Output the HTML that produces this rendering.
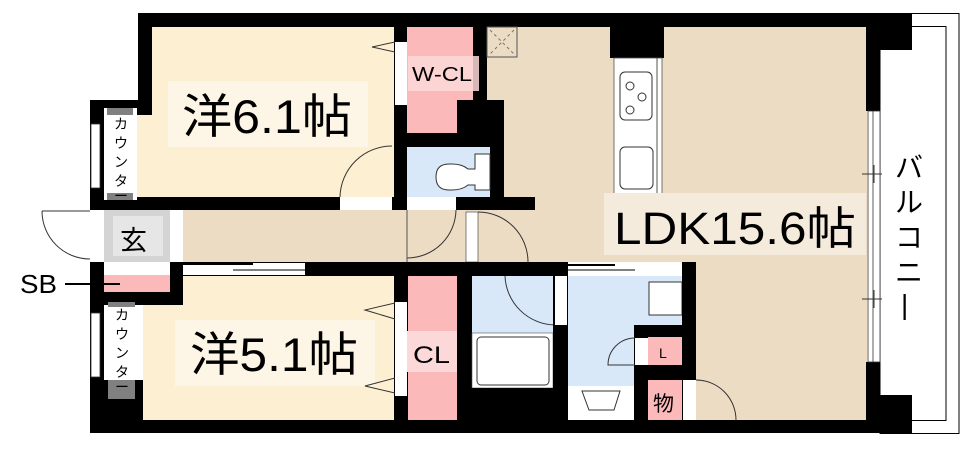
<!DOCTYPE html>
<html><head><meta charset="utf-8"><style>
html,body{margin:0;padding:0;background:#fff;width:972px;height:470px;overflow:hidden}
svg{display:block}
text{font-family:"Liberation Sans","Noto Sans CJK JP",sans-serif;fill:#000}
</style></head><body>
<svg width="972" height="470" viewBox="0 0 972 470" xmlns="http://www.w3.org/2000/svg">
<rect x="880" y="13.5" width="79" height="420" fill="#fff" stroke="#000" stroke-width="1"/>
<rect x="880" y="26.5" width="66" height="394" fill="none" stroke="#000" stroke-width="1"/>
<rect x="487" y="27" width="380" height="394" fill="#ecdcc4"/>
<rect x="152" y="27" width="243" height="170" fill="#fdf0d2"/>
<rect x="137" y="115" width="20" height="82" fill="#fdf0d2"/>
<rect x="90" y="210" width="470" height="52" fill="#ecdcc4"/>
<rect x="143" y="276" width="252" height="144" fill="#fdf0d2"/>
<rect x="138" y="13" width="774" height="14" fill="#000"/>
<rect x="138" y="13" width="14" height="102" fill="#000"/>
<rect x="90" y="100" width="62" height="15" fill="#000"/>
<rect x="90" y="100" width="14" height="110" fill="#000"/>
<rect x="90" y="197" width="445" height="13" fill="#000"/>
<rect x="394" y="27" width="13" height="183" fill="#000"/>
<rect x="866" y="13" width="14" height="98" fill="#000"/>
<rect x="866" y="13" width="46" height="37" fill="#000"/>
<rect x="866" y="362" width="14" height="60" fill="#000"/>
<rect x="866" y="395" width="46" height="38" fill="#000"/>
<rect x="90" y="420" width="822" height="13" fill="#000"/>
<rect x="610" y="27" width="54" height="31" fill="#000"/>
<rect x="407" y="27" width="66" height="106" fill="#fbb9b9"/>
<rect x="473" y="27" width="14" height="75" fill="#000"/>
<rect x="457" y="100" width="47" height="47" fill="#000"/>
<rect x="394" y="133" width="110" height="14" fill="#000"/>
<rect x="407" y="147" width="83" height="50" fill="#d8e8f8"/>
<rect x="490" y="100" width="14" height="110" fill="#000"/>
<rect x="407" y="197" width="49" height="13" fill="#fff"/>
<path d="M475 154 h15 v36 h-15 v-5 h-7 q-6 5-16 5 h-3 q-13 0-13-13 q0-13 13-13 h3 q10 0 16 5 h7z" fill="#fff" stroke="#333"/>
<rect x="395" y="42" width="12" height="63" fill="#fff"/>
<path d="M395 42 L372 47 L395 52" fill="none" stroke="#333"/>
<rect x="408" y="56" width="71" height="35" fill="#fdd8d8" opacity=".85"/>
<text x="412" y="81" font-size="20" textLength="60" lengthAdjust="spacingAndGlyphs">W-CL</text>
<rect x="487" y="27" width="30" height="30" fill="#ecdcc4" stroke="#555"/>
<path d="M490 30 L514 54 M514 30 L490 54" stroke="#777" stroke-dasharray="3,3"/>
<rect x="340" y="197" width="52" height="13" fill="#fff"/>
<path d="M392 146 A52 52 0 0 0 340 197" fill="none" stroke="#333"/>
<rect x="168" y="81" width="200" height="66" fill="#fdf5e5"/>
<text x="182" y="133" font-size="47" textLength="170" lengthAdjust="spacingAndGlyphs">洋6.1帖</text>
<rect x="104" y="108" width="33" height="92" fill="#fff"/>
<rect x="107" y="108" width="26" height="7" fill="#808080"/>
<rect x="107" y="193" width="26" height="7" fill="#808080"/>
<rect x="91" y="124" width="9" height="64" fill="#fff" stroke="#333" stroke-width=".8"/>
<text font-size="14" transform="translate(114,116)"><tspan x="0" y="13">カ</tspan><tspan x="0" y="32">ウ</tspan><tspan x="0" y="51">ン</tspan><tspan x="0" y="70">タ</tspan><tspan x="0" y="85">ー</tspan></text>
<rect x="90" y="210" width="14" height="52" fill="#fff"/>
<rect x="104" y="210" width="66" height="52" fill="#d4d4d4"/>
<rect x="113" y="216" width="50" height="40" fill="#e6e6e6"/>
<rect x="170" y="210" width="13" height="52" fill="#fff"/>
<text x="120" y="250" font-size="27">玄</text>
<path d="M42 211 A48 48 0 0 0 90 259" fill="none" stroke="#333"/>
<line x1="42" y1="211" x2="90" y2="211" stroke="#333"/>
<path d="M407 258 A49 49 0 0 0 456 210" fill="none" stroke="#333"/>
<line x1="407" y1="210" x2="407" y2="262" stroke="#555"/>
<rect x="466" y="212" width="12" height="50" fill="#fff" stroke="#333" stroke-width=".6"/>
<path d="M478 212 A50 50 0 0 1 528 262" fill="none" stroke="#333"/>
<rect x="90" y="262" width="606" height="14" fill="#000"/>
<rect x="183" y="263" width="122" height="12" fill="#fff"/>
<line x1="183" y1="264" x2="253" y2="264" stroke="#000" stroke-width="2"/>
<line x1="233" y1="270" x2="305" y2="270" stroke="#000"/>
<rect x="90" y="262" width="93" height="43" fill="#000"/>
<rect x="104" y="262" width="66" height="13" fill="#fff"/>
<rect x="104" y="275" width="66" height="17" fill="#fbb9b9"/>
<line x1="65" y1="284" x2="120" y2="284" stroke="#000" stroke-width="2"/>
<text x="20" y="293" font-size="26" textLength="37" lengthAdjust="spacingAndGlyphs">SB</text>
<rect x="90" y="305" width="14" height="115" fill="#000"/>
<rect x="104" y="305" width="36" height="75" fill="#fff"/>
<rect x="108" y="302" width="27" height="5" fill="#808080"/>
<rect x="104" y="380" width="39" height="40" fill="#000"/>
<rect x="108" y="380" width="27" height="19" fill="#808080"/>
<rect x="91" y="313" width="9" height="64" fill="#fff" stroke="#333" stroke-width=".8"/>
<text font-size="14" transform="translate(115,307)"><tspan x="0" y="13">カ</tspan><tspan x="0" y="32">ウ</tspan><tspan x="0" y="51">ン</tspan><tspan x="0" y="70">タ</tspan><tspan x="0" y="85">ー</tspan></text>
<rect x="175" y="320" width="200" height="66" fill="#fdf5e5"/>
<text x="190" y="371" font-size="47" textLength="168" lengthAdjust="spacingAndGlyphs">洋5.1帖</text>
<rect x="394" y="276" width="14" height="144" fill="#000"/>
<rect x="395" y="302" width="12" height="94" fill="#fff"/>
<path d="M395 303 L365 310 L395 319 M395 378 L365 386 L395 393" fill="none" stroke="#333"/>
<rect x="408" y="276" width="49" height="144" fill="#fbb9b9"/>
<rect x="407" y="331" width="51" height="41" fill="#fdd8d8"/>
<text x="413" y="363" font-size="24" textLength="37" lengthAdjust="spacingAndGlyphs">CL</text>
<rect x="457" y="262" width="15" height="158" fill="#000"/>
<rect x="472" y="276" width="81" height="57" fill="#d8e8f8"/>
<rect x="472" y="333" width="81" height="55" fill="#fff" stroke="#555" stroke-width=".6"/>
<rect x="477" y="337" width="72" height="48" rx="4" fill="#fff" stroke="#333"/>
<path d="M505 276 A51 51 0 0 0 555 325" fill="none" stroke="#333"/>
<rect x="470" y="388" width="98" height="32" fill="#000"/>
<rect x="553" y="262" width="15" height="158" fill="#000"/>
<rect x="555" y="276" width="12" height="49" fill="#fff"/>
<rect x="568" y="276" width="114" height="110" fill="#d8e8f8"/>
<rect x="568" y="262" width="114" height="14" fill="#fff"/>
<line x1="568" y1="265" x2="615" y2="265" stroke="#000" stroke-width="2"/>
<line x1="568" y1="270" x2="635" y2="270" stroke="#000"/>
<rect x="649" y="282" width="33" height="33" fill="#fff" stroke="#333"/>
<rect x="682" y="262" width="14" height="158" fill="#000"/>
<rect x="634" y="325" width="62" height="95" fill="#000"/>
<rect x="635" y="338" width="13" height="27" fill="#fff"/>
<path d="M635 338 A27 27 0 0 0 608 365 L635 365" fill="none" stroke="#333"/>
<rect x="648" y="337" width="34" height="28" fill="#fbb9b9"/>
<text x="659" y="358" font-size="14">L</text>
<rect x="568" y="386" width="66" height="34" fill="#fff"/>
<path d="M582 391 L620 391 L614 410 L589 410Z" fill="none" stroke="#333"/>
<rect x="648" y="380" width="34" height="40" fill="#fbb9b9"/>
<text x="653" y="411" font-size="21">物</text>
<rect x="683" y="380" width="13" height="40" fill="#fff"/>
<path d="M696 380 A40 40 0 0 1 736 420" fill="none" stroke="#333"/>
<rect x="614" y="58" width="48" height="137" fill="#fff" stroke="#555" stroke-width=".8"/>
<line x1="657" y1="58" x2="657" y2="195" stroke="#555"/>
<rect x="620" y="72" width="32" height="48" rx="5" fill="#fff" stroke="#333"/>
<circle cx="630" cy="86" r="4" fill="none" stroke="#333"/>
<circle cx="642" cy="97" r="4" fill="none" stroke="#333"/>
<circle cx="630" cy="110" r="4" fill="none" stroke="#333"/>
<rect x="620" y="147" width="33" height="42" rx="5" fill="#fff" stroke="#333"/>
<rect x="604" y="193" width="262" height="62" fill="#f5ebdd"/>
<text x="614" y="244" font-size="45" textLength="242" lengthAdjust="spacingAndGlyphs">LDK15.6帖</text>
<rect x="868" y="111" width="12" height="251" fill="#fff" stroke="#333" stroke-width=".8"/>
<line x1="873" y1="111" x2="873" y2="362" stroke="#333" stroke-width=".8"/>
<path d="M862 174 h20 M874 165 v18 M862 299 h20 M874 290 v18" stroke="#333"/>
<text font-size="28" transform="translate(895,150)"><tspan x="0" y="27">バ</tspan><tspan x="0" y="62">ル</tspan><tspan x="0" y="97">コ</tspan><tspan x="0" y="132">ニ</tspan><tspan x="6" y="164">|</tspan></text>
</svg>
</body></html>
